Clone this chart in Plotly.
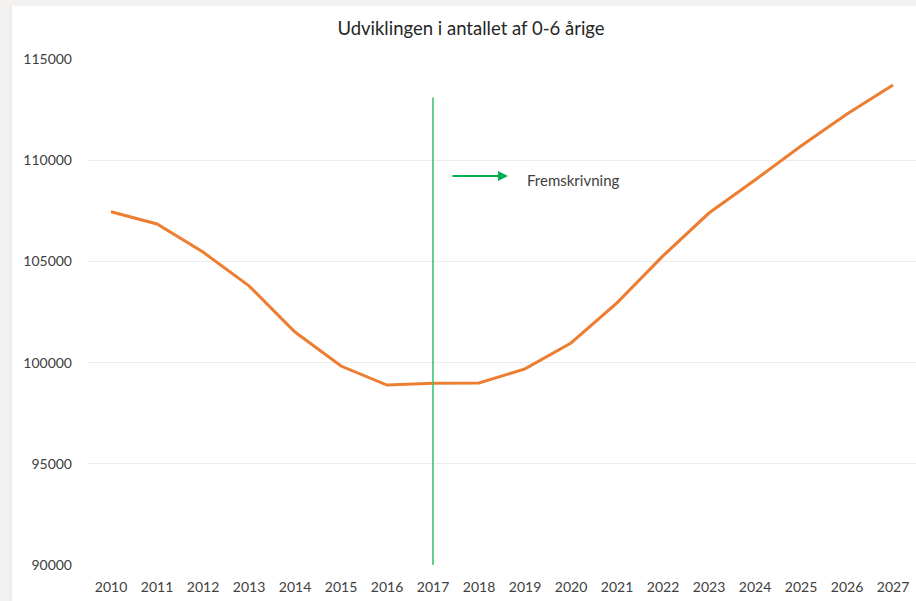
import plotly.graph_objects as go

years = list(range(2010, 2028))
values = [107450, 106850, 105460, 103790, 101510, 99830, 98890, 98980, 98990,
          99690, 100970, 102950, 105270, 107390, 109020, 110700, 112280, 113720]
tick_vals = [90000, 95000, 100000, 105000, 110000, 115000]
title_text = "Udviklingen i antallet af 0-6 årige"
forecast_label = "Fremskrivning"
forecast_year = 2017
forecast_top = 113100

W, H = 916, 601
L, R, T, B = 88, 0, 59, 36
font_family = "Lato, 'Open Sans', sans-serif"

fig = go.Figure()
fig.add_trace(go.Scatter(x=years, y=values, mode="lines",
                         line=dict(color="#ed7d31", width=3), hoverinfo="skip",
                         showlegend=False))
fig.add_trace(go.Scatter(x=[forecast_year, forecast_year], y=[tick_vals[0], forecast_top],
                         mode="lines", line=dict(color="#3cc46f", width=1.6),
                         showlegend=False, hoverinfo="skip"))

fig.add_annotation(x=2018.63, y=109220, ax=2017.39, ay=109220,
                   xref="x", yref="y", axref="x", ayref="y", text="",
                   showarrow=True, arrowhead=2, arrowsize=1, arrowwidth=2,
                   arrowcolor="#00b050")
fig.add_annotation(x=2019.0, y=109040, xref="x", yref="y", text=forecast_label,
                   showarrow=False, xanchor="left", yanchor="middle",
                   font=dict(family=font_family, size=15, color="#404040"))

pw = W - L - R
ph = H - T - B
# Outer frame strips (gray border at left and top)
fig.add_shape(type="rect", xref="paper", yref="paper",
              x0=-L / pw, x1=(11 - L) / pw, y0=-B / ph, y1=1 + T / ph,
              fillcolor="#f3f2f1", line=dict(width=0), layer="below")
fig.add_shape(type="rect", xref="paper", yref="paper",
              x0=-L / pw, x1=1, y0=1 + (T - 6) / ph, y1=1 + T / ph,
              fillcolor="#f3f2f1", line=dict(width=0), layer="below")
fig.add_shape(type="line", xref="paper", yref="paper",
              x0=(11 - L) / pw, x1=(11 - L) / pw, y0=-B / ph, y1=1 + (T - 6) / ph,
              line=dict(color="#e2e0de", width=1), layer="below")

fig.update_layout(
    width=W, height=H,
    margin=dict(l=L, r=R, t=T, b=B, pad=0),
    paper_bgcolor="white", plot_bgcolor="white",
    title=dict(text=title_text, x=471 / W, xref="container", xanchor="center",
               y=1 - 29 / H, yref="container", yanchor="middle",
               font=dict(family=font_family, size=18.5, color="#262626")),
    font=dict(family=font_family, size=14, color="#404040"),
    xaxis=dict(range=[2009.5, 2027.5], tickvals=years, ticktext=[str(y) for y in years],
               showgrid=False, zeroline=False, showline=False, ticks="",
               ticklabelstandoff=12, tickfont=dict(size=14, color="#404040")),
    yaxis=dict(range=[tick_vals[0], tick_vals[-1]], tickvals=tick_vals, tickformat="d",
               showgrid=True, gridcolor="#ececec", gridwidth=1, zeroline=False,
               showline=False, ticks="", ticklabelstandoff=15,
               tickfont=dict(size=14, color="#404040")),
)

fig.write_html("out.html", config={"displayModeBar": False},
               post_script="document.body.style.margin='0';document.body.style.padding='0';"
                           "document.documentElement.style.overflow='hidden';")
